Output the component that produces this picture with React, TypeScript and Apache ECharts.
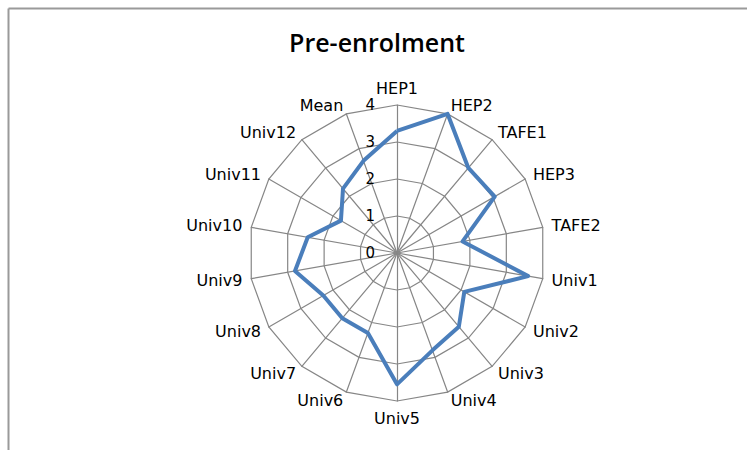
import React, { useEffect, useRef } from "react";
import * as echarts from "echarts";

const categories = [
  "HEP1", "HEP2", "TAFE1", "HEP3", "TAFE2", "Univ1", "Univ2", "Univ3", "Univ4",
  "Univ5", "Univ6", "Univ7", "Univ8", "Univ9", "Univ10", "Univ11", "Univ12", "Mean",
];
const preEnrolment = [
  3.3, 4.0, 3.0, 3.05, 1.8, 3.6, 2.1, 2.6, 2.8,
  3.55, 2.3, 2.3, 2.3, 2.8, 2.45, 1.75, 2.27, 2.65,
];
const tickLabels = ["0", "1", "2", "3", "4"];
const title = "Pre-enrolment";

export default function App() {
  const ref = useRef<HTMLDivElement>(null);
  useEffect(() => {
    if (!ref.current) return;
    const chart = echarts.init(ref.current, null, { renderer: "svg" });
    // ECharts lays radar indicators counter-clockwise; reorder so they read clockwise
    const order = [0, ...categories.map((_, i) => i).slice(1).reverse()];
    const maxV = tickLabels.length - 1;
    const labelFont = "DejaVu Sans, sans-serif";
    chart.setOption({
      animation: false,
      backgroundColor: "#ffffff",
      title: {
        text: title,
        left: 372,
        top: 24,
        textAlign: "center",
        textStyle: { fontFamily: "Open Sans, sans-serif", fontSize: 25, fontWeight: 600, color: "#000" },
      },
      graphic: [
        { type: "line", shape: { x1: 8.5, y1: 8.5, x2: 747, y2: 8.5 }, style: { stroke: "#9a9a9a", lineWidth: 2 } },
        { type: "line", shape: { x1: 8.5, y1: 8.5, x2: 8.5, y2: 450 }, style: { stroke: "#9a9a9a", lineWidth: 2 } },
      ],
      radar: {
        center: [397, 253],
        radius: 148,
        startAngle: 90,
        shape: "polygon",
        splitNumber: maxV,
        nameGap: 9,
        axisName: { color: "#000", fontFamily: labelFont, fontSize: 16 },
        indicator: order.map((i) => ({ name: categories[i], min: 0, max: maxV })),
        splitLine: { lineStyle: { color: "#868686", width: 1.2 } },
        splitArea: { show: false },
        axisLine: { lineStyle: { color: "#868686", width: 1.2 } },
        axisLabel: { show: false },
        axisTick: { show: false },
      },
      polar: { center: [397, 253], radius: 148 },
      angleAxis: {
        startAngle: 90,
        show: false,
        min: 0,
        max: 360,
      },
      radiusAxis: {
        min: 0,
        max: maxV,
        interval: 1,
        axisLine: { show: false },
        axisTick: { show: false },
        splitLine: { show: false },
        axisLabel: {
          color: "#000",
          fontFamily: labelFont,
          fontSize: 15,
          margin: 22,
          padding: [6, 0, 0, 0],
          formatter: (v: number) => tickLabels[v] ?? "",
        },
      },
      series: [
        {
          type: "radar",
          symbol: "none",
          lineStyle: { color: "#4a7ebb", width: 4 },
          data: [{ value: order.map((i) => preEnrolment[i]), name: title }],
        },
      ],
    });
    return () => chart.dispose();
  }, []);
  return (
    <div
      ref={ref}
      style={{ position: "fixed", left: 0, top: 0, width: 747, height: 450 }}
    />
  );
}
